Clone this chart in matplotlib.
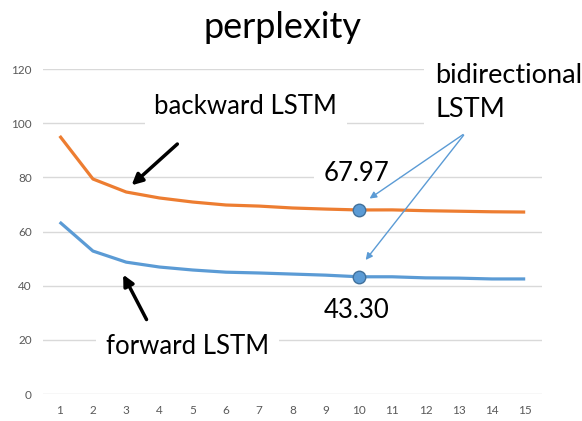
import numpy as np
import matplotlib.pyplot as plt

plt.rcParams['font.family'] = ['Lato', 'DejaVu Sans']

# data
epochs = list(range(1, 16))
backward = [95.3, 79.4, 74.6, 72.4, 70.9, 69.8, 69.4, 68.7, 68.3, 67.97, 68.0, 67.7, 67.5, 67.3, 67.2]
forward = [63.5, 52.8, 48.7, 46.9, 45.8, 45.0, 44.7, 44.3, 43.9, 43.30, 43.3, 42.9, 42.8, 42.5, 42.5]
bi_epoch = 10
bi_values = [67.97, 43.30]
yticks = [0, 20, 40, 60, 80, 100, 120]

orange = '#ED7D31'
blue = '#5B9BD5'

fig = plt.figure(figsize=(5.82, 4.21), dpi=100)
ax = fig.add_axes([0.074, 0.064, 0.857, 0.772])

ax.plot(epochs, backward, color=orange, lw=2.3, solid_capstyle='butt', zorder=3)
ax.plot(epochs, forward, color=blue, lw=2.3, solid_capstyle='butt', zorder=3)
ax.plot([bi_epoch] * 2, bi_values, 'o', ms=9, color=blue, mec='#41719C', mew=1, zorder=5)

ax.set_xlim(0.5, 15.5)
ax.set_ylim(0, 120)
ax.set_xticks(epochs)
ax.set_yticks(yticks)
ax.tick_params(length=0, labelsize=8.5, labelcolor='#595959', pad=8)
ax.grid(axis='y', color='#d9d9d9', lw=1)
ax.set_axisbelow(True)
for s in ax.spines.values():
    s.set_visible(False)

fig.text(0.486, 0.935, 'perplexity', ha='center', va='center', fontsize=26)

box = dict(facecolor='white', edgecolor='none', pad=7)
ax.text(6.6, 106, 'backward LSTM', ha='center', va='center', fontsize=18.5, bbox=box, zorder=4)
ax.text(4.85, 17.7, 'forward LSTM', ha='center', va='center', fontsize=18.5, bbox=box, zorder=4)
ax.text(9.93, 81.5, '67.97', ha='center', va='center', fontsize=18.5, bbox=box, zorder=4)
ax.text(9.93, 31, '43.30', ha='center', va='center', fontsize=18.5, bbox=box, zorder=4)
ax.text(12.3, 111.5, 'bidirectional\nLSTM', ha='left', va='center', fontsize=19.5,
        linespacing=1.45, bbox=dict(facecolor='white', edgecolor='none', pad=8), zorder=4)

# black arrows
ax.annotate('', xy=(3.1, 76.4), xytext=(4.6, 93),
            arrowprops=dict(arrowstyle='-|>', color='black', lw=2.5, mutation_scale=16), zorder=6)
ax.annotate('', xy=(2.87, 45), xytext=(3.65, 26.6),
            arrowprops=dict(arrowstyle='-|>', color='black', lw=2.5, mutation_scale=16), zorder=6)
# thin blue arrows
for tip in [(10.25, 71.6), (10.15, 48.7)]:
    ax.annotate('', xy=tip, xytext=(13.2, 96.4),
                arrowprops=dict(arrowstyle='-|>', color=blue, lw=1, mutation_scale=10), zorder=6)

fig.savefig('out.png', dpi=100)
